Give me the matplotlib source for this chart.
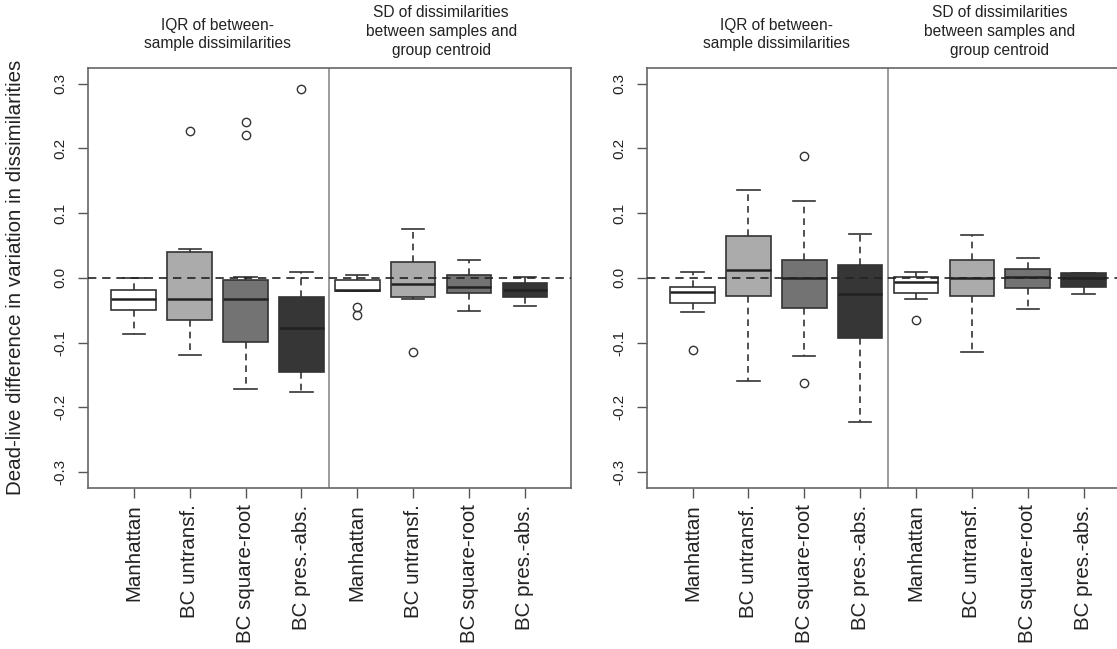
import matplotlib.pyplot as plt

plt.rcParams['font.family'] = ['Liberation Sans', 'DejaVu Sans']

labels = ['Manhattan', 'BC untransf.', 'BC square-root', 'BC pres.-abs.'] * 2
fills = ['white', '#ababab', '#737373', '#363636'] * 2
yticks = [-0.3, -0.2, -0.1, 0.0, 0.1, 0.2, 0.3]
ytick_labels = ['-0.3', '-0.2', '-0.1', '0.0', '0.1', '0.2', '0.3']
header_iqr = 'IQR of between-\nsample dissimilarities'
header_sd = 'SD of dissimilarities\nbetween samples and\ngroup centroid'
ylabel = 'Dead-live difference in variation in dissimilarities'

# left panel: first 4 = IQR, last 4 = SD
left_whislo = [-0.087, -0.119, -0.172, -0.176, -0.021, -0.032, -0.051, -0.044]
left_q1 = [-0.050, -0.065, -0.099, -0.145, -0.020, -0.030, -0.023, -0.030]
left_med = [-0.033, -0.033, -0.033, -0.077, -0.019, -0.009, -0.014, -0.018]
left_q3 = [-0.019, 0.040, -0.003, -0.029, -0.004, 0.025, 0.004, -0.008]
left_whishi = [0.000, 0.045, 0.002, 0.009, 0.004, 0.075, 0.028, 0.002]
left_fliers = [[], [0.227], [0.240, 0.221], [0.292], [-0.045, -0.057], [-0.115], [], []]

# right panel
right_whislo = [-0.053, -0.159, -0.121, -0.223, -0.032, -0.114, -0.048, -0.025]
right_q1 = [-0.039, -0.028, -0.047, -0.093, -0.023, -0.028, -0.016, -0.014]
right_med = [-0.022, 0.012, 0.000, -0.025, -0.007, 0.000, 0.002, 0.000]
right_q3 = [-0.014, 0.064, 0.028, 0.020, 0.001, 0.028, 0.013, 0.007]
right_whishi = [0.009, 0.136, 0.118, 0.068, 0.009, 0.066, 0.030, 0.008]
right_fliers = [[-0.112], [], [0.188, -0.162], [], [-0.065], [], [], []]


def make_stats(lo, q1, med, q3, hi, fl):
    return [dict(whislo=a, q1=b, med=c, q3=d, whishi=e, fliers=f)
            for a, b, c, d, e, f in zip(lo, q1, med, q3, hi, fl)]


fig = plt.figure(figsize=(11.17, 6.49), dpi=100)
ax1 = fig.add_axes([0.0788, 0.2485, 0.4321, 0.6467])
ax2 = fig.add_axes([0.5790, 0.2485, 0.4321, 0.6467])

panels = [
    (ax1, make_stats(left_whislo, left_q1, left_med, left_q3, left_whishi, left_fliers)),
    (ax2, make_stats(right_whislo, right_q1, right_med, right_q3, right_whishi, right_fliers)),
]

pos = list(range(1, 9))
for ax, stats in panels:
    bp = ax.bxp(stats, positions=pos, widths=0.8, capwidths=0.4, patch_artist=True,
                boxprops=dict(edgecolor='#333333', linewidth=1.2),
                whiskerprops=dict(color='#333333', linestyle=(0, (4, 3)), linewidth=1.2),
                capprops=dict(color='#333333', linewidth=1.2),
                medianprops=dict(color='#222222', linewidth=1.8),
                flierprops=dict(marker='o', markerfacecolor='none', markeredgecolor='#333333',
                                markersize=6, markeredgewidth=1.0))
    for patch, c in zip(bp['boxes'], fills):
        patch.set_facecolor(c)

    ax.axhline(0, color='#222222', linestyle=(0, (5, 3.5)), linewidth=1.2, zorder=5)
    ax.axvline(4.5, color='#8a8a8a', linewidth=1.2)

    ax.set_xlim(0.18, 8.82)
    ax.set_ylim(-0.324, 0.324)
    ax.set_xticks(pos)
    ax.set_xticklabels(labels, rotation=90, fontsize=14.8, color='#222222', va='top')
    ax.set_yticks(yticks)
    ax.set_yticklabels(ytick_labels, rotation=90, va='center', fontsize=11, color='#222222')
    ax.tick_params(axis='both', direction='out', length=7, width=1, color='#555555')
    ax.tick_params(axis='y', pad=8)
    ax.tick_params(axis='x', pad=5)
    for s in ax.spines.values():
        s.set_color('#666666')
        s.set_linewidth(1.2)

    tr = ax.get_xaxis_transform()
    ax.text(2.5, 1.04, header_iqr, transform=tr, ha='center', va='bottom',
            fontsize=11.2, color='#222222', linespacing=1.3)
    ax.text(6.5, 1.025, header_sd, transform=tr, ha='center', va='bottom',
            fontsize=11.2, color='#222222', linespacing=1.3)

ax1.set_ylabel(ylabel, fontsize=14.8, color='#222222')
ax1.yaxis.set_label_coords(-0.13, 0.5)

fig.savefig('out.png', dpi=100)
